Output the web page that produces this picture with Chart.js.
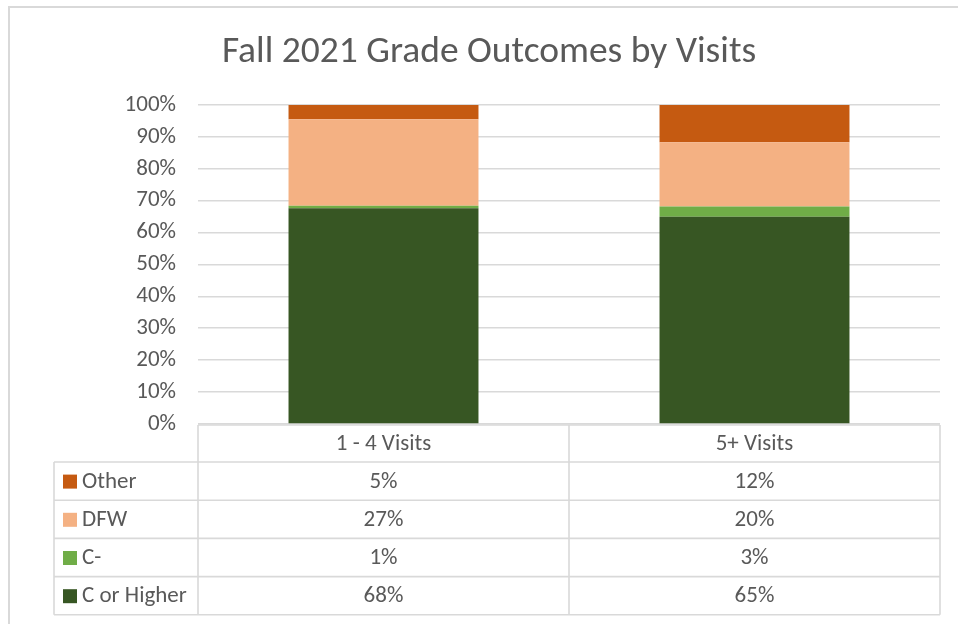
<!DOCTYPE html>
<html>
<head>
<meta charset="utf-8">
<script src="https://cdn.jsdelivr.net/npm/chart.js@4.4.1/dist/chart.umd.min.js"></script>
<style>
  html, body { margin: 0; padding: 0; background: #fff; }
  #wrap { position: relative; width: 958px; height: 624px; overflow: hidden; }
  #border { position: absolute; left: 8px; top: 6px; width: 1000px; height: 700px; border: 2px solid #d9d9d9; box-sizing: border-box; pointer-events: none; }
  canvas { position: absolute; left: 0; top: 0; }
</style>
</head>
<body>
<div id="wrap">
  <canvas id="c" width="958" height="624"></canvas>
  <div id="border"></div>
</div>
<script>
const title = 'Fall 2021 Grade Outcomes by Visits';
const categories = ['1 - 4 Visits', '5+ Visits'];
const seriesNames = ['C or Higher', 'C-', 'DFW', 'Other'];
const cOrHigher = [67.6, 65.0];
const cMinus = [0.8, 3.2];
const dfw = [27.1, 20.1];
const other = [4.5, 11.7];
const yTicks = [0, 10, 20, 30, 40, 50, 60, 70, 80, 90, 100];
const colors = ['#375623', '#70AD47', '#F4B183', '#C55A11'];

const FONT = "Carlito, Lato, sans-serif";
const TEXT = '#595959';
const GRID = '#d9d9d9';

const seriesValues = [cOrHigher, cMinus, dfw, other];
const tableOrder = [3, 2, 1, 0]; // Other, DFW, C-, C or Higher

const tablePlugin = {
  id: 'dataTable',
  afterDraw(chart) {
    const ctx = chart.ctx;
    const area = chart.chartArea;
    const x = chart.scales.x;
    const left = area.left, right = area.right;
    const labelLeft = 54;
    const top = area.bottom + 1;
    const headerH = 37;
    const rowH = 38.2;
    const colEdges = [left];
    for (let i = 0; i < categories.length; i++) {
      const c = x.getPixelForValue(i);
      colEdges.push(i < categories.length - 1 ? (c + x.getPixelForValue(i + 1)) / 2 : right);
    }
    ctx.save();
    ctx.strokeStyle = GRID;
    ctx.lineWidth = 1.6;
    ctx.beginPath();
    ctx.moveTo(left, top); ctx.lineTo(right, top);
    const bodyTop = top + headerH;
    ctx.moveTo(labelLeft, bodyTop); ctx.lineTo(right, bodyTop);
    for (let r = 1; r <= tableOrder.length; r++) {
      const yy = bodyTop + r * rowH;
      ctx.moveTo(labelLeft, yy); ctx.lineTo(right, yy);
    }
    const bottom = bodyTop + tableOrder.length * rowH;
    colEdges.forEach((ex) => { ctx.moveTo(ex, top); ctx.lineTo(ex, bottom); });
    ctx.moveTo(labelLeft, bodyTop); ctx.lineTo(labelLeft, bottom);
    ctx.stroke();

    ctx.fillStyle = TEXT;
    ctx.font = '23px ' + FONT;
    ctx.textBaseline = 'middle';
    ctx.textAlign = 'center';
    categories.forEach((c, i) => {
      ctx.fillText(c, x.getPixelForValue(i), top + headerH / 2 + 1);
    });
    tableOrder.forEach((si, r) => {
      const cy = bodyTop + r * rowH + rowH / 2 + 1;
      ctx.fillStyle = colors[si];
      ctx.fillRect(63, cy - 7.5, 14, 14);
      ctx.fillStyle = TEXT;
      ctx.textAlign = 'left';
      ctx.fillText(seriesNames[si], 82, cy);
      ctx.textAlign = 'center';
      seriesValues[si].forEach((v, i) => {
        ctx.fillText(Math.round(v) + '%', x.getPixelForValue(i), cy);
      });
    });
    ctx.font = '37.5px ' + FONT;
    ctx.textAlign = 'center';
    ctx.textBaseline = 'alphabetic';
    ctx.fillText(title, 489, 62);
    ctx.restore();
  }
};

new Chart(document.getElementById('c'), {
  type: 'bar',
  data: {
    labels: categories,
    datasets: seriesNames.map((n, i) => ({
      label: n,
      data: seriesValues[i],
      backgroundColor: colors[i],
      borderWidth: 0,
      barPercentage: 0.512,
      categoryPercentage: 1
    }))
  },
  options: {
    responsive: false,
    animation: false,
    devicePixelRatio: 1,
    layout: { padding: { top: 105, right: 18, bottom: 200, left: 0 } },
    plugins: { legend: { display: false }, title: { display: false }, tooltip: { enabled: false } },
    scales: {
      x: { stacked: true, display: false },
      y: {
        stacked: true,
        min: 0, max: 100,
        afterFit(s) { s.width = 198; },
        afterBuildTicks(s) { s.ticks = yTicks.map(v => ({ value: v })); },
        border: { display: false },
        grid: { color: GRID, lineWidth: 1.6, drawTicks: false },
        ticks: {
          padding: 22,
          color: TEXT,
          font: { family: FONT, size: 23 },
          callback: v => v + '%'
        }
      }
    }
  },
  plugins: [tablePlugin]
});
</script>
</body>
</html>
